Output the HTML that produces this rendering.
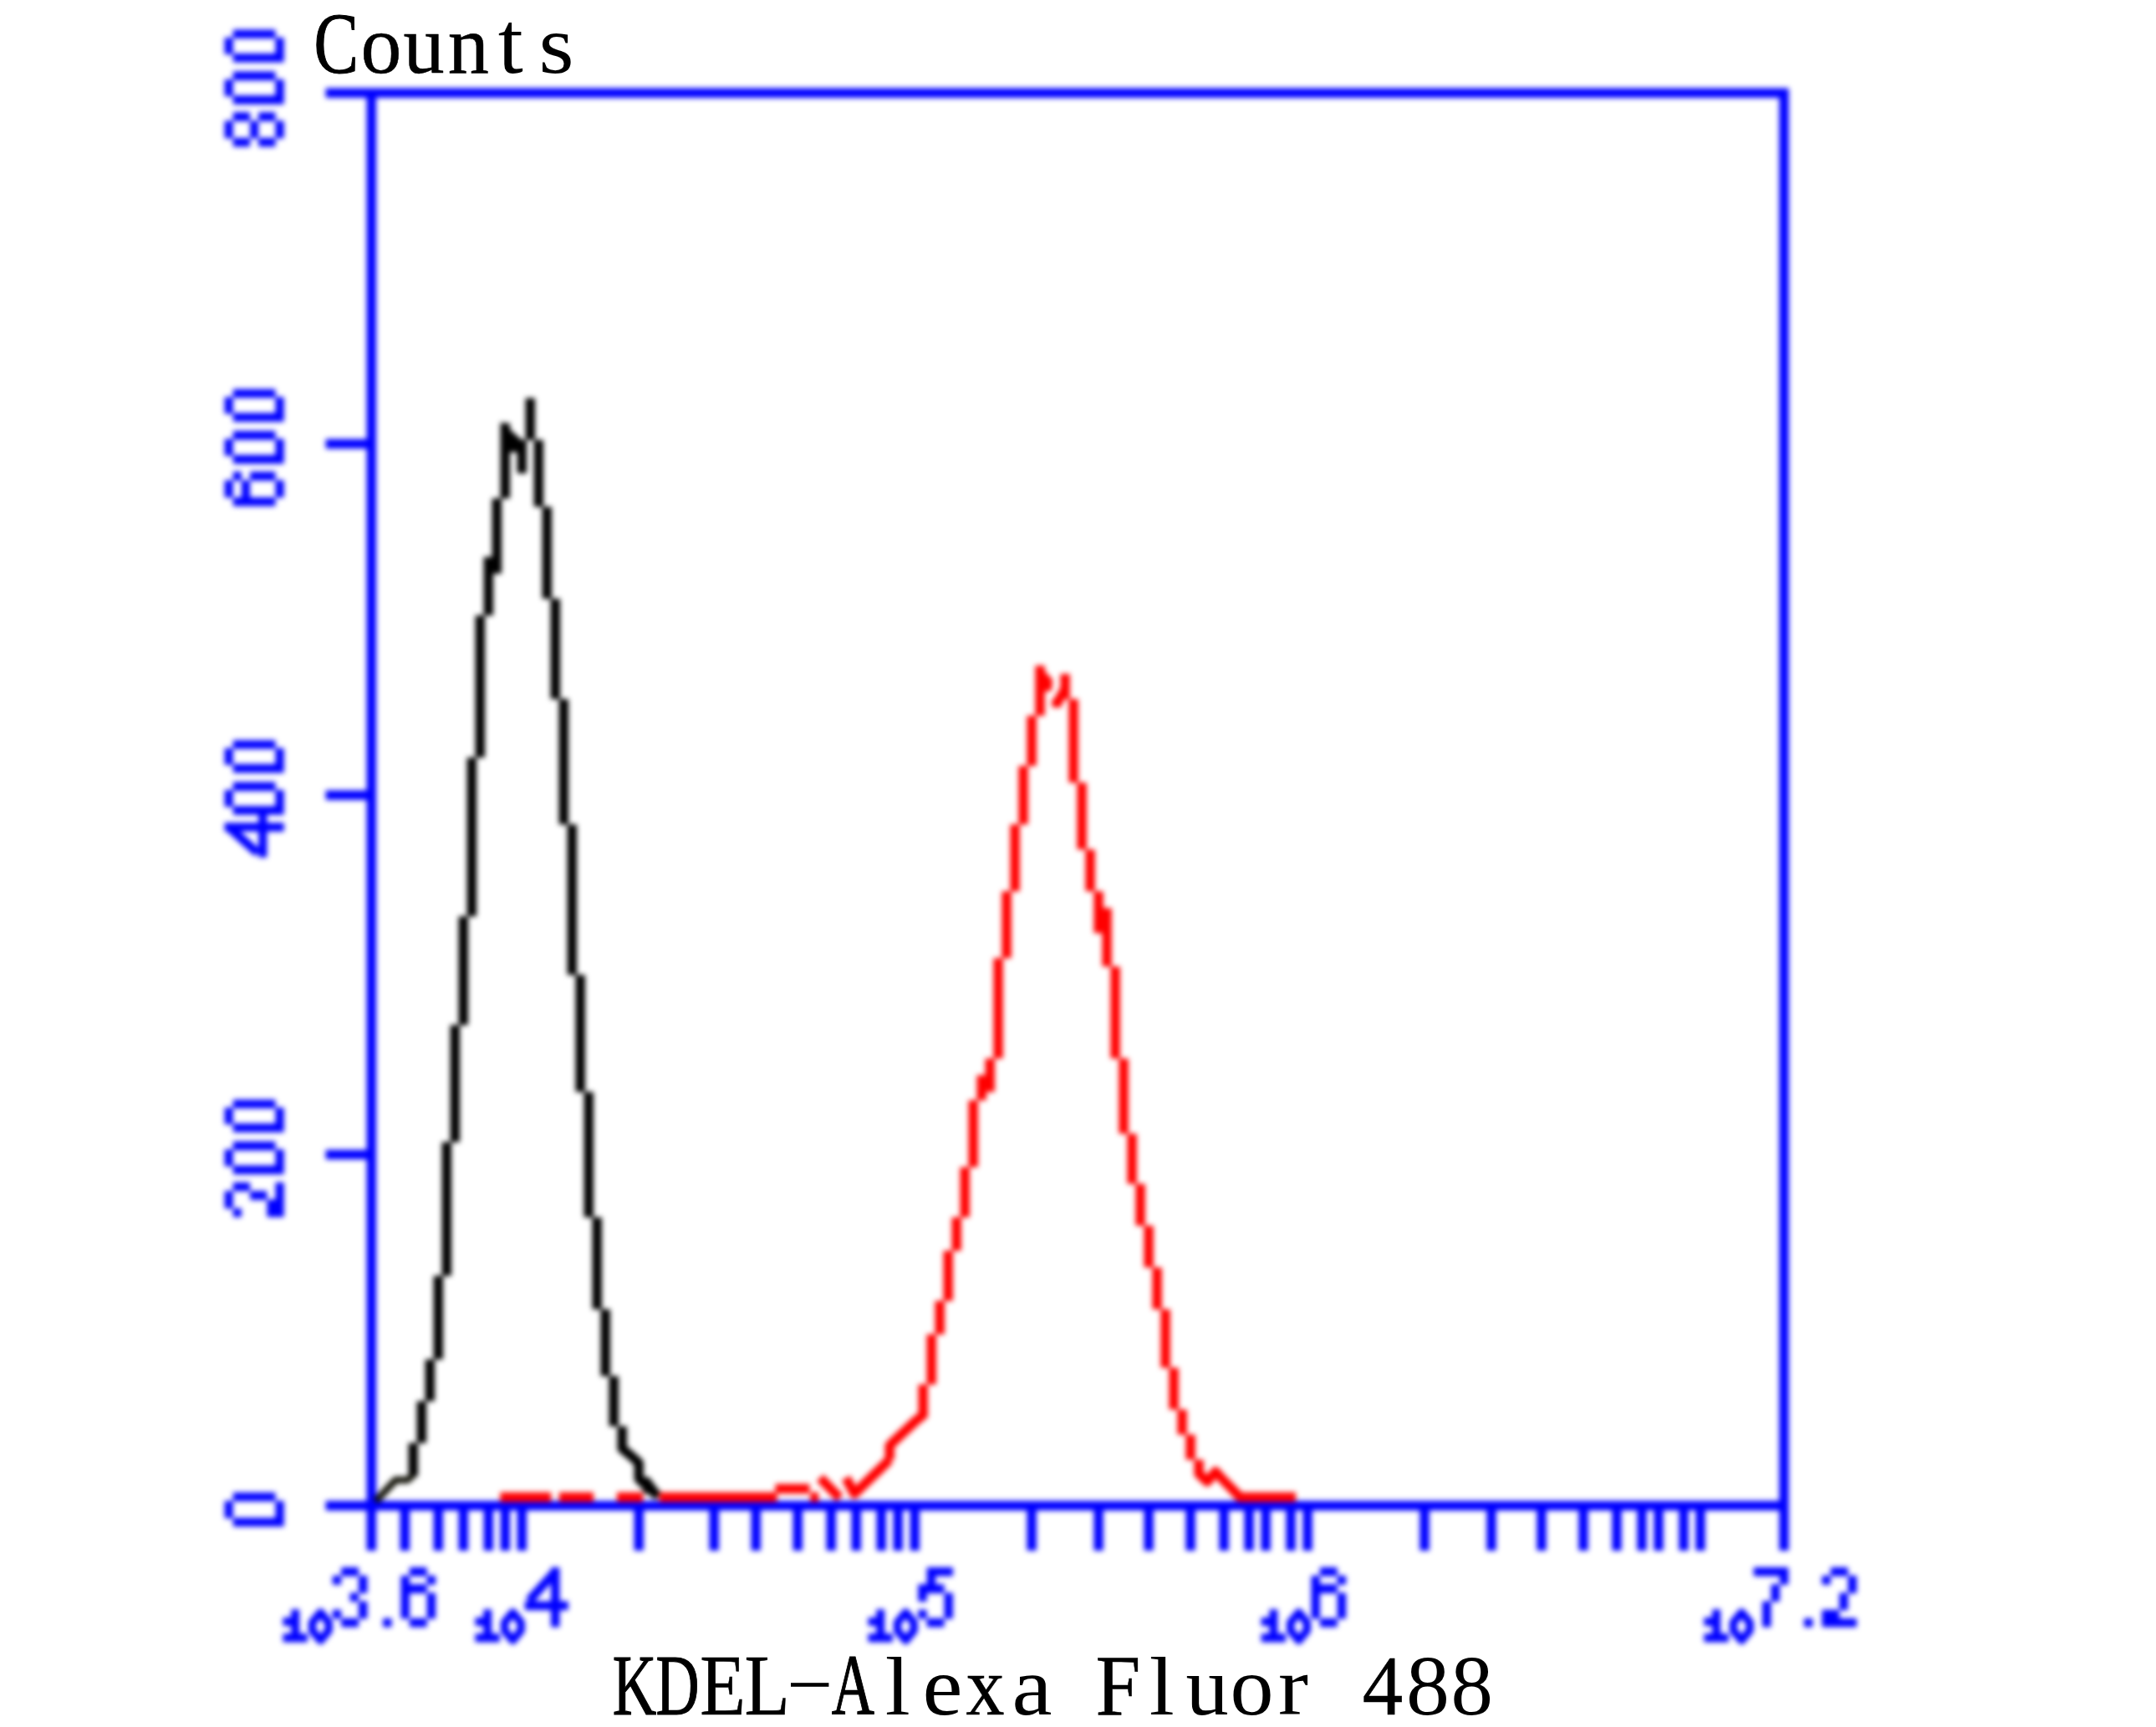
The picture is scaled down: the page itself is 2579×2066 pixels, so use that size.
<!DOCTYPE html>
<html><head><meta charset="utf-8"><title>Flow histogram</title>
<style>
html,body{margin:0;padding:0;background:#fff;}
body{width:2579px;height:2066px;overflow:hidden;}
svg{display:block;}
text{font-family:"Liberation Sans",sans-serif;}
.serif text{font-family:"Liberation Serif",serif;fill:#000;}
</style></head><body>
<svg width="2579" height="2066" viewBox="0 0 2579 2066">
<defs>
<filter id="bl" x="0" y="0" width="2579" height="2066" filterUnits="userSpaceOnUse" color-interpolation-filters="sRGB"><feGaussianBlur stdDeviation="3.4"/></filter>
<filter id="bt" x="0" y="0" width="2579" height="2066" filterUnits="userSpaceOnUse" color-interpolation-filters="sRGB"><feGaussianBlur stdDeviation="3.0"/></filter>
</defs>
<rect width="2579" height="2066" fill="#fff"/>

<g filter="url(#bl)" fill="none" stroke-linecap="butt">
<path d="M389.6,111.2H2139.75M389.6,1801.3H2139.75M444.3,111.2V1855.0M2134.0,111.2V1855.0M389.6,531.1H444.3M389.6,951.2H444.3M389.6,1381.3H444.3M484.3,1801.3V1855.0M524.3,1801.3V1855.0M554.3,1801.3V1855.0M584.3,1801.3V1855.0M604.3,1801.3V1855.0M624.3,1801.3V1855.0M764.2,1801.3V1855.0M854.2,1801.3V1855.0M904.2,1801.3V1855.0M954.2,1801.3V1855.0M994.2,1801.3V1855.0M1024.2,1801.3V1855.0M1054.2,1801.3V1855.0M1074.2,1801.3V1855.0M1094.2,1801.3V1855.0M1234.1,1801.3V1855.0M1314.1,1801.3V1855.0M1374.1,1801.3V1855.0M1424.1,1801.3V1855.0M1464.1,1801.3V1855.0M1494.1,1801.3V1855.0M1514.1,1801.3V1855.0M1544.1,1801.3V1855.0M1564.1,1801.3V1855.0M1704.0,1801.3V1855.0M1784.0,1801.3V1855.0M1844.0,1801.3V1855.0M1894.0,1801.3V1855.0M1934.0,1801.3V1855.0M1964.0,1801.3V1855.0M1984.0,1801.3V1855.0M2014.0,1801.3V1855.0M2034.0,1801.3V1855.0" stroke="#0000ff" stroke-width="11.5"/>
<path d="M494.3,1726.3V1766.3M504.3,1676.3V1726.3M514.3,1626.3V1676.3M524.3,1526.3V1626.3M534.3,1366.3V1526.3M544.3,1226.3V1366.3M554.3,1096.3V1226.3M564.3,906.3V1096.3M574.3,736.3V906.3M584.3,666.3V736.3M594.3,596.3V686.3M604.3,506.3V596.3M624.3,526.3V566.3M634.3,476.3V526.3M644.3,526.3V606.3M654.3,606.3V716.3M664.3,716.3V836.3M674.3,836.3V986.3M684.3,986.3V1166.3M694.2,1166.3V1306.3M704.2,1306.3V1456.3M714.2,1456.3V1566.3M724.2,1566.3V1646.3M734.2,1646.3V1706.3M744.2,1706.3V1736.3M744.2,1733L754.2,1741L764.2,1750V1769L774.2,1778.5L787.2,1790" stroke="#000" stroke-width="11.5" stroke-linejoin="round"/>
<path d="M449.3,1796L464.3,1780L473.3,1770.5H487.3L494.3,1765" stroke="#1a1a10" stroke-width="8.5" stroke-linejoin="round"/>
<path d="M599.3,504L629.3,531L629.3,541L608.3,541Z" fill="#000" stroke="none"/>
<path d="M761.2,1767L776.2,1767L791.2,1787L771.2,1787Z" fill="#000" stroke="none"/>
<rect x="582.3" y="668" width="12" height="16" fill="#000"/>
<path d="M598.3,1791.0H659.3M668.8,1791.0H710M738,1791.0H769.2M788.5,1791.0H929.5M927.5,1781H968.5M969.2,1791.0h10M1064.2,1726.3V1746.3M1104.2,1656.3V1696.3M1114.2,1596.3V1656.3M1124.2,1556.3V1596.3M1134.2,1496.3V1556.3M1144.2,1456.3V1496.3M1154.2,1396.3V1456.3M1164.2,1316.3V1396.3M1174.2,1286.3V1316.3M1184.2,1266.3V1306.3M1194.1,1146.3V1266.3M1204.1,1066.3V1146.3M1214.1,986.3V1066.3M1224.1,916.3V986.3M1234.1,856.3V916.3M1244.1,796.3V856.3M1264.1,836.3V846.3M1274.1,806.3V836.3M1284.1,836.3V936.3M1294.1,936.3V1016.3M1304.1,1016.3V1066.3M1314.1,1066.3V1116.3M1324.1,1086.3V1156.3M1334.1,1156.3V1266.3M1344.1,1266.3V1356.3M1354.1,1356.3V1416.3M1364.1,1416.3V1466.3M1374.1,1466.3V1516.3M1384.1,1516.3V1566.3M1394.1,1566.3V1636.3M1404.1,1636.3V1686.3M1414.1,1686.3V1716.3M1424.1,1716.3V1746.3M1434.1,1746.3V1766.3M1274.1,824L1265.1,840M981,1768L1004.5,1792M1012,1768L1022,1787L1053,1757L1064.2,1746M1064.2,1729L1096.2,1699L1104.2,1693M1434.1,1763L1444.1,1772.5L1454.1,1760.5L1464.1,1771.5L1474.1,1781.5L1483,1791.0H1550" stroke="#ff0000" stroke-width="11.5" stroke-linejoin="round"/>
<path d="M1247.1,800L1259.1,813L1258.1,826L1247.1,828Z" fill="#ff0000" stroke="none"/>
<rect x="1315.1" y="1088" width="10" height="26" fill="#ff0000"/>
<rect x="1174.2" y="1288" width="10" height="17" fill="#ff0000"/>
</g>
<g filter="url(#bl)" fill="none" stroke="#0000ff" stroke-linecap="butt">
<path d="M278.8,170.3H299.1M309.2,170.3H329.5M268.6,160.1H278.8M299.1,160.1H309.2M329.5,160.1H339.7M268.6,149.8H278.8M299.1,149.8H309.2M329.5,149.8H339.7M278.8,139.6H299.1M309.2,139.6H329.5M278.8,119.5H339.7M268.6,110.0H278.8M329.5,110.0H339.7M268.6,100.4H278.8M329.5,100.4H339.7M278.8,90.9H329.5M278.8,69.2H339.7M268.6,59.7H278.8M329.5,59.7H339.7M268.6,50.2H278.8M329.5,50.2H339.7M278.8,40.7H329.5M278.8,600.2H329.5M268.6,590.0H278.8M288.9,590.0H299.1M329.5,590.0H339.7M268.6,579.8H278.8M288.9,579.8H299.1M329.5,579.8H339.7M278.8,569.6H288.9M299.1,569.6H329.5M278.8,549.5H339.7M268.6,540.0H278.8M329.5,540.0H339.7M268.6,530.4H278.8M329.5,530.4H339.7M278.8,520.9H329.5M278.8,499.2H339.7M268.6,489.7H278.8M329.5,489.7H339.7M268.6,480.2H278.8M329.5,480.2H339.7M278.8,470.7H329.5M274.7,990.5L308.2,1020.4M309.2,1020.4H319.4M309.2,1010.1H319.4M309.2,999.8H319.4M268.6,989.5H339.7M309.2,979.2H319.4M278.8,969.5H339.7M268.6,960.0H278.8M329.5,960.0H339.7M268.6,950.4H278.8M329.5,950.4H339.7M278.8,940.9H329.5M278.8,919.2H339.7M268.6,909.7H278.8M329.5,909.7H339.7M268.6,900.2H278.8M329.5,900.2H339.7M278.8,890.7H329.5M278.8,1450.7H288.9M319.4,1450.7H339.7M268.6,1440.4H278.8M319.4,1440.4H339.7M268.6,1430.1H278.8M299.1,1430.1H319.4M329.5,1430.1H339.7M278.8,1419.8H299.1M329.5,1419.8H339.7M278.8,1399.5H339.7M268.6,1390.0H278.8M329.5,1390.0H339.7M268.6,1380.4H278.8M329.5,1380.4H339.7M278.8,1370.9H329.5M278.8,1349.2H339.7M268.6,1339.7H278.8M329.5,1339.7H339.7M268.6,1330.2H278.8M329.5,1330.2H339.7M278.8,1320.7H329.5M278.8,1821.0H339.7M268.6,1810.9H278.8M329.5,1810.9H339.7M268.6,1800.8H278.8M329.5,1800.8H339.7M278.8,1790.7H329.5" stroke-width="10.6"/>
<path d="M408.2,1880.2H429.0M397.8,1890.4H408.2M429.0,1890.4H439.4M429.0,1900.6H439.4M418.6,1910.7H429.0M429.0,1920.9H439.4M397.8,1931.1H408.2M429.0,1931.1H439.4M408.2,1941.3H429.0M458.1,1941.3H468.5M489.9,1880.2H510.7M479.5,1890.4H489.9M510.7,1890.4H521.1M479.5,1900.6H510.7M479.5,1910.7H489.9M510.7,1910.7H521.1M479.5,1920.9H489.9M510.7,1920.9H521.1M479.5,1931.1H489.9M510.7,1931.1H521.1M489.9,1941.3H510.7M663.2,1881.2L633.0,1914.8M659.0,1880.2H669.4M659.0,1890.4H669.4M659.0,1900.6H669.4M659.0,1910.7H669.4M627.8,1920.9H679.8M659.0,1931.1H669.4M659.0,1941.3H669.4M1108.7,1880.2H1139.9M1108.7,1890.4H1119.1M1098.3,1900.6H1129.5M1098.3,1910.7H1108.7M1129.5,1910.7H1139.9M1129.5,1920.9H1139.9M1098.3,1931.1H1108.7M1129.5,1931.1H1139.9M1108.7,1941.3H1129.5M1578.9,1880.2H1599.7M1568.5,1890.4H1578.9M1599.7,1890.4H1610.1M1568.5,1900.6H1599.7M1568.5,1910.7H1578.9M1599.7,1910.7H1610.1M1568.5,1920.9H1578.9M1599.7,1920.9H1610.1M1568.5,1931.1H1578.9M1599.7,1931.1H1610.1M1578.9,1941.3H1599.7M2097.7,1880.2H2139.3M2128.9,1890.4H2139.3M2118.5,1900.6H2128.9M2118.5,1910.7H2128.9M2108.1,1920.9H2118.5M2108.1,1931.1H2118.5M2108.1,1941.3H2118.5M2158.0,1941.3H2168.4M2189.8,1880.2H2210.6M2179.4,1890.4H2189.8M2210.6,1890.4H2221.0M2210.6,1900.6H2221.0M2200.2,1910.7H2210.6M2200.2,1920.9H2210.6M2179.4,1931.1H2200.2M2179.4,1941.3H2221.0" stroke-width="10.6"/>
<path d="M348.3,1930.3H358.1M338.5,1940.0H358.1M348.3,1949.7H358.1M338.5,1959.4H367.9M578.3,1930.3H588.1M568.5,1940.0H588.1M578.3,1949.7H588.1M568.5,1959.4H597.9M1048.3,1930.3H1058.1M1038.5,1940.0H1058.1M1048.3,1949.7H1058.1M1038.5,1959.4H1067.9M1518.5,1930.3H1528.3M1508.7,1940.0H1528.3M1518.5,1949.7H1528.3M1508.7,1959.4H1538.1M2048.2,1930.3H2058.0M2038.4,1940.0H2058.0M2048.2,1949.7H2058.0M2038.4,1959.4H2067.8" stroke-width="10.2"/>
<path d="M383.4,1929L393.2,1941V1950.5L383.4,1962.5L373.5,1950.5V1941ZM613.4,1929L623.2,1941V1950.5L613.4,1962.5L603.5,1950.5V1941ZM1083.4,1929L1093.2,1941V1950.5L1083.4,1962.5L1073.5,1950.5V1941ZM1553.6,1929L1563.4,1941V1950.5L1553.6,1962.5L1543.7,1950.5V1941ZM2083.3,1929L2093.1,1941V1950.5L2083.3,1962.5L2073.4,1950.5V1941Z" stroke-width="9.3" stroke-linejoin="round"/>
</g>
<g class="serif">
<text transform="translate(375.6,87) scale(0.799,1.03)" font-size="100" stroke="#000" stroke-width="1.0" vector-effect="non-scaling-stroke">C</text>
<text transform="translate(431.5,87) scale(0.979,1.0)" font-size="100" stroke="#000" stroke-width="0.5" vector-effect="non-scaling-stroke">o</text>
<text transform="translate(482.6,87) scale(0.983,1.0)" font-size="100" stroke="#000" stroke-width="0.5" vector-effect="non-scaling-stroke">u</text>
<text transform="translate(535.8,87) scale(0.983,1.0)" font-size="100" stroke="#000" stroke-width="0.5" vector-effect="non-scaling-stroke">n</text>
<text transform="translate(595.7,87) scale(1.080,1.05)" font-size="100">t</text>
<text transform="translate(644.6,87) scale(1.080,1.0)" font-size="100">s</text>
<text transform="translate(732.7,2051) scale(0.728,1.03)" font-size="100" stroke="#000" stroke-width="1.0" vector-effect="non-scaling-stroke">K</text>
<text transform="translate(784.4,2051) scale(0.720,1.03)" font-size="100" stroke="#000" stroke-width="1.0" vector-effect="non-scaling-stroke">D</text>
<text transform="translate(837.2,2051) scale(0.893,1.03)" font-size="100" stroke="#000" stroke-width="0.5" vector-effect="non-scaling-stroke">E</text>
<text transform="translate(890.4,2051) scale(0.887,1.03)" font-size="100" stroke="#000" stroke-width="0.5" vector-effect="non-scaling-stroke">L</text>
<rect x="946.0" y="2013.2" width="45.4" height="4.6" fill="#000"/>
<text transform="translate(994.8,2051) scale(0.709,1.03)" font-size="100" stroke="#000" stroke-width="1.0" vector-effect="non-scaling-stroke">A</text>
<text transform="translate(1058.8,2051) scale(1.080,1.0)" font-size="100">l</text>
<text transform="translate(1103.6,2051) scale(1.080,1.0)" font-size="100">e</text>
<text transform="translate(1155.4,2051) scale(0.919,1.0)" font-size="100" stroke="#000" stroke-width="0.5" vector-effect="non-scaling-stroke">x</text>
<text transform="translate(1210.5,2051) scale(1.080,1.0)" font-size="100">a</text>
<text transform="translate(1310.6,2051) scale(0.969,1.03)" font-size="100" stroke="#000" stroke-width="0.5" vector-effect="non-scaling-stroke">F</text>
<text transform="translate(1374.8,2051) scale(1.080,1.0)" font-size="100">l</text>
<text transform="translate(1418.4,2051) scale(1.023,1.0)" font-size="100">u</text>
<text transform="translate(1471.6,2051) scale(1.040,1.0)" font-size="100">o</text>
<text transform="translate(1529.1,2051) scale(1.080,1.0)" font-size="100">r</text>
<text transform="translate(1629.7,2051) scale(0.970,1.02)" font-size="100" stroke="#000" stroke-width="0.5" vector-effect="non-scaling-stroke">4</text>
<text transform="translate(1682.1,2051) scale(1.038,1.02)" font-size="100">8</text>
<text transform="translate(1735.4,2051) scale(1.009,1.02)" font-size="100">8</text>
</g>
</svg></body></html>
